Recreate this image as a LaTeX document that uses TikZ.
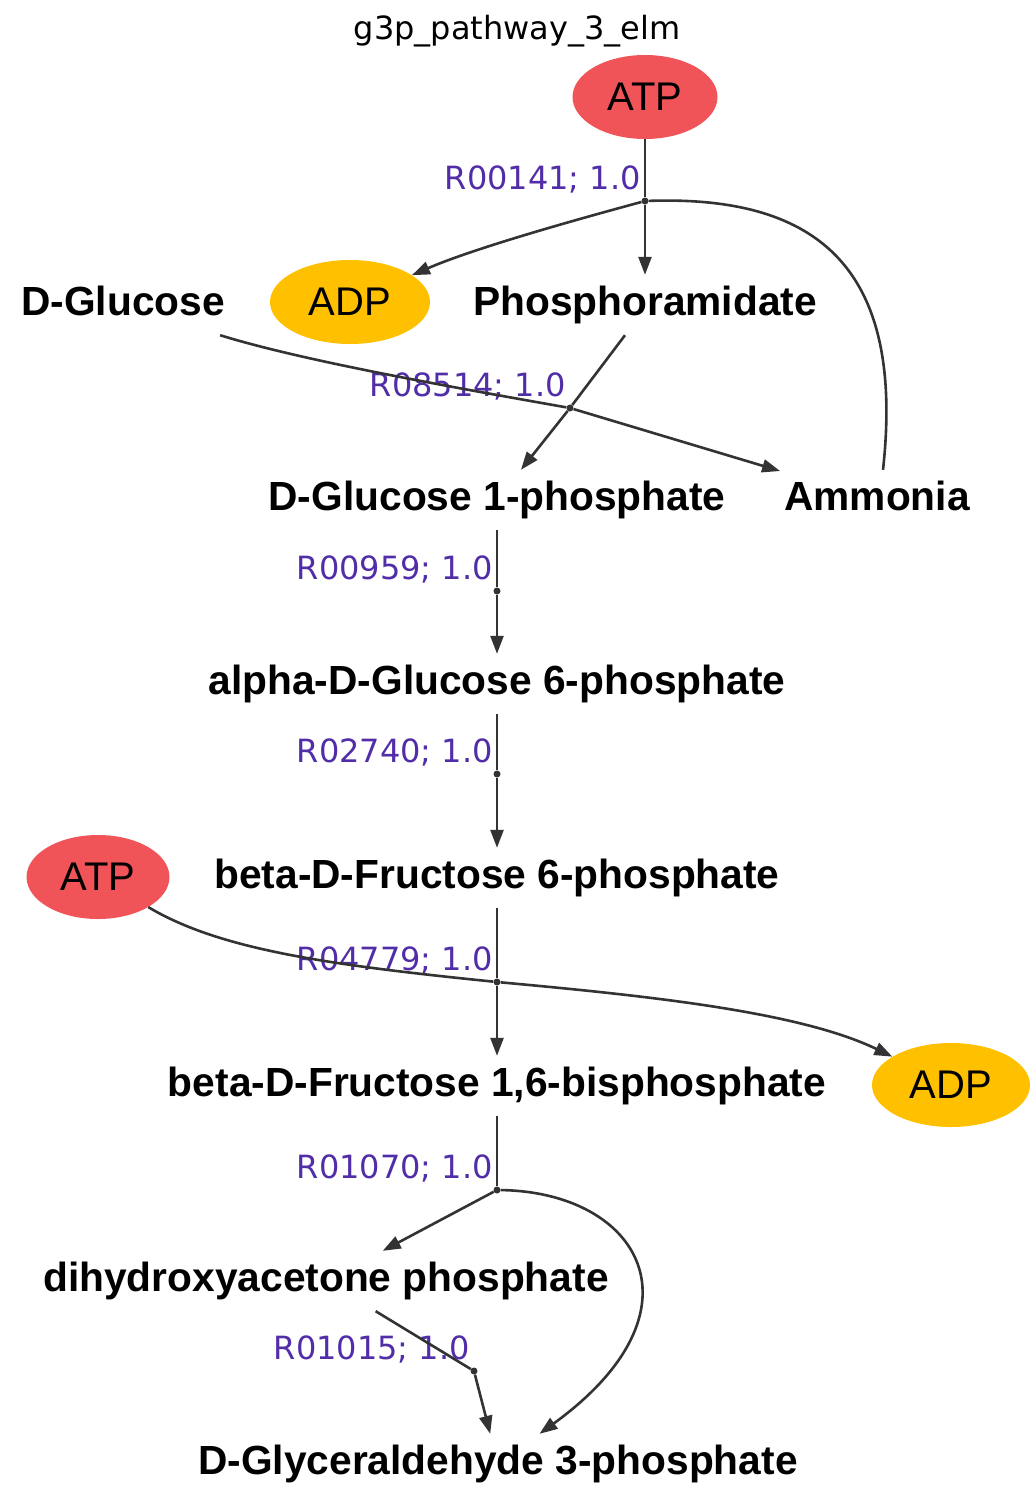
\documentclass[tikz,border=0pt]{standalone}
\usepackage{fontspec}
\setmainfont{Liberation Sans}
\newfontfamily\dejavu{DejaVu Sans}
\usetikzlibrary{arrows.meta,shapes.geometric,calc}
\definecolor{edgec}{HTML}{333333}
\definecolor{atpc}{HTML}{F05459}
\definecolor{adpc}{HTML}{FFC000}
\definecolor{labc}{HTML}{512DA8}
\tikzset{
  met/.style={rectangle,inner xsep=4pt,inner ysep=0pt,minimum height=60pt,text height=29pt,text depth=8pt,font=\bfseries\fontsize{40.7}{48}\selectfont},
  cof/.style={ellipse,inner sep=0pt,minimum height=84pt,font=\fontsize{40}{48}\selectfont},
  rdot/.style={circle,fill=edgec,draw=none,inner sep=0pt,minimum size=7pt},
  rlab/.style={anchor=east,inner sep=0pt,text height=23pt,text depth=0pt,text=labc,font=\dejavu\fontsize{32}{38}\selectfont},
  conn/.style={draw=edgec,line width=2.6pt},
  arr/.style={conn,-{Triangle[length=18pt,width=13pt]}}
}
\begin{document}
\begin{tikzpicture}[x=1pt,y=-1pt]
\useasboundingbox (0,0) rectangle (1036,1500);
\node[inner sep=0pt,font=\dejavu\fontsize{32}{38}\selectfont] (title) at (517,31) {g3p\_pathway\_3\_elm};
% metabolites
\node[cof,fill=atpc,minimum width=145pt] (atp1) at (645,97) {ATP};
\node[cof,fill=adpc,minimum width=160pt] (adp1) at (350,302) {ADP};
\node[met] (dglc) at (123,305) {D-Glucose};
\node[met] (phos) at (645,305) {Phosphoramidate};
\node[met] (dg1p) at (497,500) {D-Glucose 1-phosphate};
\node[met] (amm) at (877,500) {Ammonia};
\node[met] (ag6p) at (497,684) {alpha-D-Glucose 6-phosphate};
\node[met] (bf6p) at (497,878) {beta-D-Fructose 6-phosphate};
\node[cof,fill=atpc,minimum width=143pt] (atp2) at (98,877) {ATP};
\node[met] (f16bp) at (497,1086) {beta-D-Fructose 1,6-bisphosphate};
\node[cof,fill=adpc,minimum width=158pt] (adp2) at (951,1085) {ADP};
\node[met] (dhap) at (326,1281) {dihydroxyacetone phosphate};
\node[met] (gap) at (498,1464) {D-Glyceraldehyde 3-phosphate};
% reaction points
\node[rdot] (r1) at (645,201) {};
\node[rdot] (r2) at (570,408) {};
\node[rdot] (r3) at (497,591) {};
\node[rdot] (r4) at (497,774) {};
\node[rdot] (r5) at (497,982) {};
\node[rdot] (r6) at (497,1190) {};
\node[rdot] (r7) at (474,1371) {};
% reaction labels
\node[rlab] (l1) at ($(r1)+(-4,-23)$) {R00141; 1.0};
\node[rlab] (l2) at ($(r2)+(-4,-23)$) {R08514; 1.0};
\node[rlab] (l3) at ($(r3)+(-4,-23)$) {R00959; 1.0};
\node[rlab] (l4) at ($(r4)+(-4,-23)$) {R02740; 1.0};
\node[rlab] (l5) at ($(r5)+(-4,-23)$) {R04779; 1.0};
\node[rlab] (l6) at ($(r6)+(-4,-23)$) {R01070; 1.0};
\node[rlab] (l7) at ($(r7)+(-4,-23)$) {R01015; 1.0};
% R00141
\draw[conn] (atp1) -- (r1);
\draw[conn] ([xshift=6pt]amm.north) .. controls (905,270) and (820,195) .. (r1);
\draw[arr] (r1) -- (phos);
\draw[arr] (r1) .. controls (560,224) and (470,250) .. (adp1);
% R08514
\draw[conn] (dglc) .. controls (300,360) and (440,385) .. (r2);
\draw[conn] ([xshift=-20pt]phos.south) -- (r2);
\draw[arr] (r2) -- (dg1p);
\draw[arr] (r2) -- (amm);
% R00959
\draw[conn] (dg1p) -- (r3);
\draw[arr] (r3) -- (ag6p);
% R02740
\draw[conn] (ag6p) -- (r4);
\draw[arr] (r4) -- (bf6p);
% R04779
\draw[conn] (bf6p) -- (r5);
\draw[conn] (atp2) .. controls (220,950) and (330,965) .. (r5);
\draw[arr] (r5) -- (f16bp);
\draw[arr] (r5) .. controls (650,996) and (800,1012) .. (adp2);
% R01070
\draw[conn] (f16bp) -- (r6);
\draw[arr] (r6) -- (dhap);
\draw[arr] (r6) .. controls (640,1192) and (710,1310) .. (gap);
% R01015
\draw[conn] (dhap) -- (r7);
\draw[arr] (r7) -- (gap);
\end{tikzpicture}
\end{document}
